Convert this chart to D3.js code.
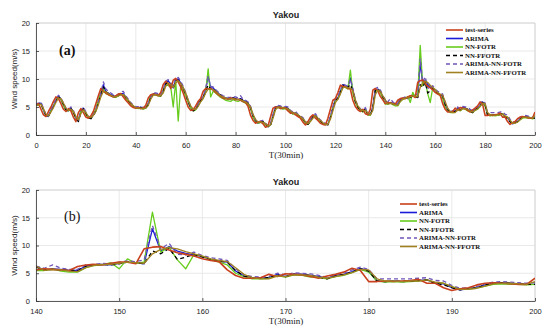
<!DOCTYPE html>
<html>
<head>
<meta charset="utf-8">
<script src="https://cdn.jsdelivr.net/npm/d3@7"></script>
<style>
  html, body { margin: 0; padding: 0; background: #fff; }
  svg { display: block; }
</style>
</head>
<body>
<div id="chart"></div>
<script>
// Wind speed, Yakou, T = 0..200 (30 min steps)
const testSeries = [
  5.4,5.6,4.6,3.6,3.3,4.2,5.0,6.0,6.8,6.5,
  5.6,4.6,4.2,4.7,4.3,3.2,2.4,4.0,4.7,4.0,
  3.2,3.0,3.4,4.2,5.6,7.0,8.3,7.8,7.5,7.2,
  7.0,6.8,7.0,7.3,7.4,6.8,6.2,5.7,5.2,4.9,
  4.8,4.9,4.7,4.8,5.3,6.6,7.2,7.3,7.2,7.0,
  7.6,9.0,9.6,9.2,8.3,9.8,10.1,9.5,8.6,7.5,
  6.2,5.0,4.4,4.5,5.2,6.0,6.5,7.8,8.3,8.2,
  8.3,8.0,7.6,7.2,6.9,6.6,6.5,6.4,6.6,6.5,
  6.3,6.4,6.2,6.0,5.8,5.1,3.5,2.6,2.1,2.3,
  2.4,2.0,1.4,1.6,3.2,4.8,5.0,5.0,4.7,4.9,
  4.8,4.3,3.9,4.0,3.6,3.3,3.0,2.3,1.8,2.4,
  3.2,3.6,3.0,2.6,2.1,1.9,1.8,3.0,4.6,6.2,
  6.5,7.6,8.9,8.7,8.6,8.3,8.2,6.2,5.1,4.5,
  4.2,4.6,3.8,3.6,4.6,8.0,8.3,7.9,6.9,6.3,
  5.6,5.8,5.7,5.6,5.5,6.2,6.5,6.6,6.5,6.8,
  7.0,7.0,6.7,9.4,9.7,9.8,9.2,8.7,8.4,8.1,
  7.6,7.3,7.1,5.6,4.6,4.1,4.1,4.2,4.8,4.4,
  4.9,4.8,4.7,4.4,4.1,4.5,4.8,5.2,5.9,5.5,
  3.5,3.5,3.6,3.5,3.6,3.7,3.9,3.2,3.2,2.4,
  1.9,2.2,2.4,2.9,3.2,3.3,3.2,3.1,3.0,3.0,4.1
];
const arima = [
  5.4,5.5,5.7,4.4,3.4,3.3,4.4,5.2,6.2,7.0,
  6.4,5.4,4.5,4.3,4.8,4.1,3.0,2.5,4.3,4.8,
  3.8,3.1,3.0,3.6,4.4,5.9,7.3,9.0,7.7,7.5,
  7.2,7.0,6.8,7.1,7.4,7.4,6.7,6.1,5.6,5.1,
  4.9,4.8,5.0,4.7,4.9,5.5,6.8,7.3,7.3,7.2,
  7.0,7.9,9.3,9.7,9.0,8.4,9.9,10.0,9.3,8.4,
  7.3,6.0,4.9,4.4,4.6,5.4,6.2,6.7,8.0,10.6,
  8.4,8.4,7.9,7.5,7.1,6.8,6.6,6.5,6.4,6.7,
  6.5,6.3,6.5,6.2,6.0,5.7,4.9,3.3,2.5,2.1,
  2.3,2.4,1.9,1.5,1.8,3.5,5.0,5.1,5.0,4.7,
  4.9,4.8,4.2,3.8,4.0,3.5,3.2,2.9,2.2,1.9,
  2.6,3.3,3.6,2.9,2.5,2.1,1.9,1.9,3.2,4.9,
  6.3,6.6,7.8,9.0,8.6,8.5,10.2,8.0,6.0,5.0,
  4.5,4.2,4.7,3.7,3.6,4.9,8.1,8.2,7.8,6.8,
  6.2,5.6,5.8,5.7,5.5,5.5,6.3,6.5,6.6,6.5,
  6.8,7.0,6.9,6.7,13.0,9.0,9.8,9.0,8.6,8.3,
  8.0,7.5,7.2,7.0,5.4,4.5,4.2,4.1,4.2,4.8,
  4.4,4.9,4.8,4.6,4.4,4.1,4.6,4.8,5.3,5.9,
  5.4,3.6,3.5,3.6,3.5,3.6,3.7,3.8,3.2,3.1,
  2.4,2.0,2.2,2.4,2.9,3.2,3.3,3.2,3.1,3.0,3.0
];
const nnFotr = [
  5.3,5.4,5.5,4.5,3.5,3.4,4.3,5.1,6.1,6.8,
  6.3,5.3,4.4,4.3,4.6,4.0,3.1,2.7,4.2,4.6,
  3.7,3.0,3.1,3.7,4.6,6.2,7.6,8.2,7.4,7.2,
  7.0,6.8,6.7,7.0,7.2,7.2,6.5,6.0,5.5,5.0,
  4.8,4.7,4.8,4.6,4.8,5.6,7.0,7.2,7.1,7.0,
  6.9,8.0,9.0,8.8,8.6,5.0,9.6,2.5,8.8,8.0,
  7.0,5.8,4.8,4.3,4.5,5.3,6.0,6.6,7.6,11.8,
  6.8,7.8,7.5,7.1,6.7,6.5,6.2,6.1,6.0,6.3,
  6.1,6.0,6.2,5.9,5.7,5.5,4.7,3.2,2.4,2.1,
  2.2,2.3,1.8,1.5,1.8,3.4,4.8,4.9,4.8,4.6,
  4.7,4.6,4.1,3.7,3.9,3.4,3.1,2.8,2.1,1.9,
  2.5,3.2,3.5,2.8,2.4,2.0,1.9,1.9,3.1,4.8,
  6.1,6.4,7.5,8.7,8.5,8.2,11.6,7.5,5.8,4.9,
  4.4,4.1,4.5,3.6,3.5,4.8,7.8,8.0,7.6,6.6,
  5.5,5.5,5.8,5.4,5.2,5.2,6.0,6.4,6.5,6.9,
  5.8,7.6,6.8,7.0,16.0,8.8,9.7,7.4,5.8,8.4,
  8.1,7.5,7.0,6.5,5.0,4.4,4.0,4.0,4.1,4.6,
  4.3,4.7,4.6,4.3,4.2,4.0,4.4,4.6,5.1,5.7,
  5.2,3.6,3.4,3.5,3.4,3.5,3.6,3.8,3.3,3.2,
  2.6,2.1,2.2,2.3,2.7,3.0,3.1,3.0,3.0,2.9,3.0
];
const nnFfotr = [
  5.3,5.5,5.6,4.5,3.5,3.4,4.3,5.2,6.1,6.9,
  6.4,5.5,4.5,4.2,4.7,4.1,3.0,2.4,4.1,4.7,
  3.9,3.1,2.9,3.5,4.3,5.8,7.2,8.6,7.7,7.4,
  7.1,6.9,6.8,7.0,7.3,7.3,6.7,6.1,5.6,5.1,
  4.9,4.8,4.9,4.7,4.8,5.4,6.7,7.3,7.3,7.1,
  7.0,7.8,9.1,9.5,9.0,8.3,9.7,9.8,9.3,8.4,
  7.3,6.0,4.9,4.3,4.5,5.3,6.1,6.6,7.9,8.9,
  8.2,8.3,7.9,7.5,7.1,6.8,6.6,6.5,6.4,6.6,
  6.5,6.3,6.4,6.2,6.0,5.7,4.9,3.4,2.6,2.1,
  2.3,2.4,2.0,1.5,1.7,3.3,4.9,5.0,5.0,4.7,
  4.9,4.7,4.2,3.9,3.9,3.5,3.2,2.9,2.2,1.9,
  2.5,3.3,3.5,2.9,2.5,2.1,1.9,1.8,3.1,4.8,
  6.3,6.5,7.8,8.9,8.7,8.5,9.0,8.0,6.0,5.0,
  4.4,4.2,4.6,3.7,3.5,4.8,8.0,8.2,7.8,6.8,
  6.1,5.6,5.7,5.6,5.5,5.5,6.3,6.5,6.6,6.5,
  6.7,7.0,6.9,6.7,9.0,8.5,9.5,7.5,7.9,8.4,
  7.9,7.5,7.2,7.0,5.5,4.5,4.2,4.1,4.2,4.7,
  4.4,4.8,4.8,4.6,4.3,4.0,4.5,4.8,5.2,5.8,
  5.4,3.6,3.5,3.6,3.5,3.6,3.7,3.8,3.2,2.9,
  2.4,2.0,2.2,2.4,2.9,3.2,3.3,3.2,3.1,3.0,3.0
];
const arimaNnFotr = [
  5.6,5.7,5.9,4.7,3.6,3.5,4.5,5.4,6.3,7.1,
  6.6,5.7,4.8,4.5,5.0,4.4,3.2,2.6,4.4,5.0,
  4.1,3.3,3.1,3.7,4.5,6.0,7.5,9.5,8.2,7.8,
  7.5,7.2,7.0,7.3,7.7,7.8,7.0,6.4,5.8,5.3,
  5.1,5.0,5.1,4.9,5.0,5.7,7.0,7.5,7.5,7.4,
  7.2,8.1,9.6,9.9,9.3,8.8,10.2,10.3,9.6,8.7,
  7.6,6.2,5.1,4.6,4.8,5.6,6.4,6.9,8.3,10.5,
  8.7,8.6,8.1,7.7,7.3,7.0,6.8,6.7,6.7,6.9,
  6.8,6.6,7.0,6.4,6.2,5.9,5.1,3.5,2.7,2.3,
  2.5,2.6,2.1,1.7,2.0,3.6,5.2,5.3,5.2,4.9,
  5.1,5.0,4.4,4.1,4.2,3.7,3.4,3.1,2.4,2.1,
  2.8,3.5,3.8,3.1,2.7,2.3,2.1,2.0,3.3,5.0,
  6.5,6.8,8.0,9.2,8.9,8.7,10.0,8.3,6.3,5.2,
  4.7,4.4,4.9,3.9,3.8,5.0,8.3,8.5,8.1,7.0,
  6.3,5.9,6.5,5.9,5.7,5.7,6.5,6.6,6.8,6.7,
  7.0,7.2,7.1,7.4,13.6,9.4,10.4,8.4,8.3,8.8,
  8.2,7.8,7.6,7.3,5.8,4.7,4.4,4.3,4.4,5.0,
  4.7,5.1,5.0,4.9,4.6,4.3,4.8,5.0,5.6,6.1,
  5.7,4.0,4.0,4.0,4.0,4.0,4.1,4.2,3.7,3.6,
  2.8,2.3,2.4,2.6,3.1,3.4,3.5,3.4,3.3,3.2,3.3
];
const arimaNnFfotr = [
  5.3,5.4,5.5,4.7,3.7,3.4,4.1,4.9,5.8,6.6,
  6.5,5.7,4.8,4.4,4.6,4.2,3.3,2.7,3.8,4.5,
  4.0,3.3,3.1,3.5,4.2,5.4,6.8,7.8,7.7,7.4,
  7.1,6.9,6.8,7.0,7.2,7.2,6.8,6.2,5.7,5.2,
  4.9,4.8,4.8,4.7,4.8,5.3,6.4,7.1,7.2,7.1,
  7.0,7.5,8.7,9.3,9.0,8.5,9.3,9.7,9.2,8.5,
  7.5,6.3,5.2,4.6,4.6,5.1,5.9,6.5,7.5,8.2,
  8.2,8.1,7.8,7.4,7.0,6.8,6.6,6.4,6.4,6.5,
  6.4,6.3,6.3,6.1,5.9,5.6,5.0,3.7,2.8,2.3,
  2.3,2.3,2.0,1.6,1.8,3.0,4.5,5.0,5.0,4.8,
  4.8,4.7,4.3,3.9,3.9,3.6,3.3,2.9,2.4,2.0,
  2.4,3.0,3.4,3.0,2.6,2.2,1.9,1.9,2.8,4.3,
  5.8,6.4,7.3,8.4,8.6,8.4,8.4,7.9,6.3,5.2,
  4.6,4.3,4.4,3.9,3.6,4.4,7.2,8.0,7.8,7.0,
  6.3,5.5,5.6,5.6,5.4,5.3,6.0,6.4,6.6,6.6,
  6.8,7.0,6.9,6.8,8.5,9.3,9.6,9.4,8.9,8.5,
  8.1,7.6,7.3,7.1,6.0,4.8,4.2,4.0,4.0,4.5,
  4.4,4.7,4.7,4.6,4.3,4.1,4.4,4.7,5.1,5.7,
  5.6,4.0,3.6,3.6,3.5,3.6,3.6,3.8,3.4,3.2,
  2.6,2.1,2.1,2.3,2.7,3.1,3.2,3.2,3.1,3.0,3.5
];

const seriesNames = ['test-series', 'ARIMA', 'NN-FOTR', 'NN-FFOTR', 'ARIMA-NN-FOTR', 'ARIMA-NN-FFOTR'];
const seriesValues = [testSeries, arima, nnFotr, nnFfotr, arimaNnFotr, arimaNnFfotr];
const seriesColors = ['#c8401c', '#1a1ad8', '#66cc1e', '#000000', '#7055b8', '#a08020'];
const seriesDash = [null, null, null, '4,3', '4,3', null];
// drawing order: predictions first, measured series near the top
const drawOrder = [1, 2, 3, 4, 0, 5];

const yTicks = [0, 5, 10, 15, 20];
const xTicksA = [0, 20, 40, 60, 80, 100, 120, 140, 160, 180, 200];
const xTicksB = [140, 150, 160, 170, 180, 190, 200];

const W = 550, H = 332;
const svg = d3.select('#chart').append('svg').attr('width', W).attr('height', H);

function panel(opts) {
  const x = d3.scaleLinear().domain(opts.xDomain).range([36, 535]);
  const y = d3.scaleLinear().domain([0, 20]).range([opts.bottom, opts.top]);
  const g = svg.append('g');

  const clipId = 'clip' + opts.label.replace(/\W/g, '');
  svg.append('defs').append('clipPath').attr('id', clipId)
    .append('rect').attr('x', 36).attr('y', opts.top)
    .attr('width', 499).attr('height', opts.bottom - opts.top);

  // grid
  g.append('g').selectAll('line').data(opts.xTicks).join('line')
    .attr('x1', d => x(d)).attr('x2', d => x(d))
    .attr('y1', opts.top).attr('y2', opts.bottom)
    .attr('stroke', '#e3e3e3').attr('stroke-width', 0.8);
  g.append('g').selectAll('line').data(yTicks).join('line')
    .attr('x1', 36).attr('x2', 535)
    .attr('y1', d => y(d)).attr('y2', d => y(d))
    .attr('stroke', '#e3e3e3').attr('stroke-width', 0.8);

  // box top/right
  g.append('path')
    .attr('d', `M36,${opts.top}H535V${opts.bottom}`)
    .attr('fill', 'none').attr('stroke', '#d0d0d0').attr('stroke-width', 0.8);

  // lines
  const lines = g.append('g').attr('clip-path', `url(#${clipId})`);
  const idx = d3.range(opts.xDomain[0], opts.xDomain[1] + 1);
  drawOrder.forEach(k => {
    const vals = seriesValues[k];
    const line = d3.line().x(i => x(i)).y(i => y(vals[i]));
    lines.append('path')
      .datum(idx)
      .attr('d', line)
      .attr('fill', 'none')
      .attr('stroke', seriesColors[k])
      .attr('stroke-width', k === 0 ? 1.6 : 1.3)
      .attr('stroke-dasharray', seriesDash[k])
      .attr('stroke-linejoin', 'round');
  });

  // axes
  const xAxis = d3.axisBottom(x).tickValues(opts.xTicks).tickSize(3).tickSizeOuter(0);
  const yAxis = d3.axisLeft(y).tickValues(yTicks).tickSize(3).tickSizeOuter(0);
  const gx = g.append('g').attr('transform', `translate(0,${opts.bottom})`).call(xAxis);
  const gy = g.append('g').attr('transform', 'translate(36,0)').call(yAxis);
  [gx, gy].forEach(a => {
    a.select('.domain').attr('stroke', '#333').attr('stroke-width', 0.8);
    a.selectAll('.tick line').attr('stroke', '#333').attr('stroke-width', 0.8);
    a.selectAll('text').attr('fill', '#222').attr('font-size', 7.5)
      .attr('font-family', 'Liberation Sans, Arial, sans-serif');
  });
  gx.selectAll('.tick line').attr('y2', -3);
  gy.selectAll('.tick line').attr('x2', 3);
  gx.selectAll('text').attr('dy', '0.9em');

  // titles
  g.append('text').attr('x', 286).attr('y', opts.top - 5)
    .attr('text-anchor', 'middle').attr('font-size', 9).attr('font-weight', 'bold')
    .attr('font-family', 'Liberation Sans, Arial, sans-serif').attr('fill', '#222')
    .text('Yakou');
  g.append('text').attr('x', 286).attr('y', opts.bottom + 23)
    .attr('text-anchor', 'middle').attr('font-size', 9)
    .attr('font-family', 'Liberation Serif, Times New Roman, serif').attr('fill', '#222')
    .text('T(30min)');
  g.append('text')
    .attr('transform', `translate(17,${(opts.top + opts.bottom) / 2}) rotate(-90)`)
    .attr('text-anchor', 'middle').attr('font-size', 8)
    .attr('font-family', 'Liberation Sans, Arial, sans-serif').attr('fill', '#222')
    .text('Wind speed(m/s)');
  g.append('text').attr('x', opts.labelX).attr('y', opts.labelY)
    .attr('font-size', 14).attr('font-weight', opts.labelBold ? 'bold' : 'normal')
    .attr('font-family', 'Liberation Serif, Times New Roman, serif').attr('fill', '#111')
    .text(opts.label);

  // legend
  const lg = g.append('g');
  seriesNames.forEach((name, k) => {
    const yy = opts.legY + k * 8.5;
    lg.append('line').attr('x1', opts.legX).attr('x2', opts.legX + 17)
      .attr('y1', yy).attr('y2', yy)
      .attr('stroke', seriesColors[k]).attr('stroke-width', 1.6)
      .attr('stroke-dasharray', seriesDash[k]);
    lg.append('text').attr('x', opts.legX + 19).attr('y', yy).attr('dy', '0.33em')
      .attr('font-size', 6.8).attr('font-weight', 'bold')
      .attr('font-family', 'Liberation Serif, Times New Roman, serif').attr('fill', '#111')
      .text(name);
  });
}

panel({ xDomain: [0, 200], xTicks: xTicksA, top: 23, bottom: 135,
  label: '(a)', labelX: 59, labelY: 55, labelBold: true, legX: 446, legY: 30 });
panel({ xDomain: [140, 200], xTicks: xTicksB, top: 190, bottom: 301,
  label: '(b)', labelX: 64, labelY: 221, labelBold: false, legX: 400, legY: 204 });
</script>
</body>
</html>
